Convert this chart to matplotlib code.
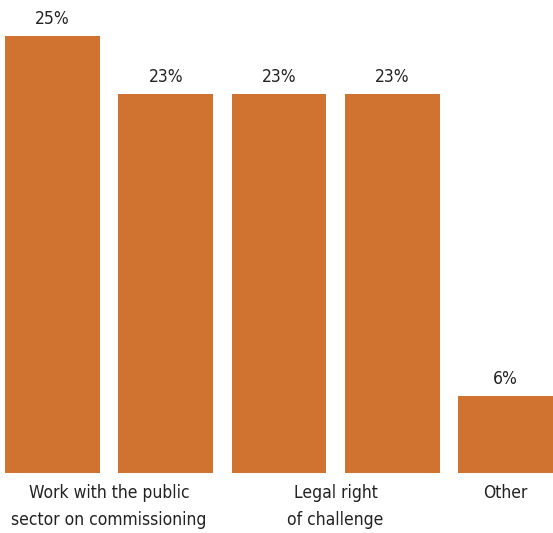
import matplotlib.pyplot as plt
import numpy as np

plt.rcParams['font.family'] = ['DejaVu Sans']
plt.rcParams['font.stretch'] = 'condensed'

# bar lengths as drawn in the source, and the percentages printed above them
heights = [25.0, 21.7, 21.7, 21.7, 4.4]
shown = ["25%", "23%", "23%", "23%", "6%"]

# group labels sit under the bars they cover
groups = ["Work with the public\nsector on commissioning", "Legal right\nof challenge", "Other"]
group_bars = [[0, 1], [2, 3], [4]]

color = '#D07230'

fig = plt.figure(figsize=(5.53, 5.33), dpi=100)
ax = fig.add_axes([5/553, 60/533, 548/553, 472/533])

x = np.arange(len(heights))
bars = ax.bar(x, heights, width=0.839, color=color)
for rect, txt in zip(bars, shown):
    ax.text(rect.get_x() + rect.get_width()/2, rect.get_height() + 0.45, txt,
            ha='center', va='bottom', fontsize=12.5, color='#222222')

ax.set_xticks([np.mean(g) for g in group_bars])
ax.set_xticklabels(groups, fontsize=12.5, color='#222222', linespacing=1.6)
ax.tick_params(axis='x', length=0, pad=8)
ax.set_yticks([])
ax.set_xlim(-0.42, 4.42)
ax.set_ylim(0, 27)
for s in ax.spines.values():
    s.set_visible(False)

fig.savefig('out.png', dpi=100)
